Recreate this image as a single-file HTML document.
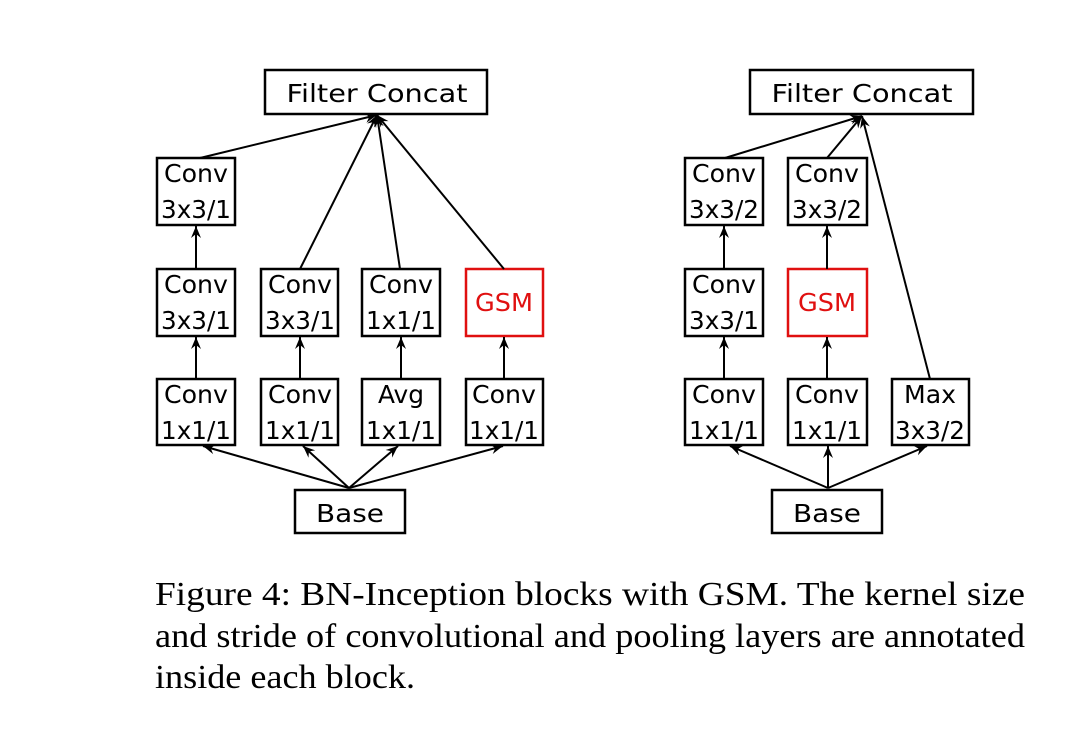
<!DOCTYPE html>
<html><head><meta charset="utf-8"><style>
html,body{margin:0;padding:0;background:#fff;}
svg{display:block;}
.b{fill:#fff;stroke:#000;stroke-width:2.5;}
.r{fill:#fff;stroke:#e01010;stroke-width:2.5;}
.t{font-family:"DejaVu Sans","Liberation Sans",sans-serif;font-size:25px;fill:#000;text-anchor:middle;}
.g{fill:#e01010;}
.l{stroke:#000;stroke-width:2;fill:none;marker-end:url(#a);}
.c{font-family:"Liberation Serif",serif;font-size:34px;fill:#000;}
</style></head><body>
<svg width="1072" height="730" viewBox="0 0 1072 730" xmlns="http://www.w3.org/2000/svg">
<defs><marker id="a" viewBox="-14 -6 16 12" refX="0" refY="0" markerWidth="16" markerHeight="12" orient="auto" markerUnits="userSpaceOnUse"><path d="M0,0 L-12,-5 L-8,0 L-12,5 Z" fill="#000"/></marker></defs>

<!-- LEFT -->
<rect class="b" x="265" y="70" width="222" height="44" stroke-width="3"/>
<text class="t" x="377" y="102" font-size="28" textLength="181" lengthAdjust="spacingAndGlyphs">Filter Concat</text>

<rect class="b" x="157" y="158" width="78" height="67"/>
<text class="t" x="196" y="182" textLength="64" lengthAdjust="spacingAndGlyphs">Conv</text><text class="t" x="196" y="218" textLength="70" lengthAdjust="spacingAndGlyphs">3x3/1</text>

<rect class="b" x="157" y="269" width="78" height="67"/>
<text class="t" x="196" y="293" textLength="64" lengthAdjust="spacingAndGlyphs">Conv</text><text class="t" x="196" y="329" textLength="70" lengthAdjust="spacingAndGlyphs">3x3/1</text>
<rect class="b" x="261" y="269" width="77" height="67"/>
<text class="t" x="300" y="293" textLength="64" lengthAdjust="spacingAndGlyphs">Conv</text><text class="t" x="300" y="329" textLength="70" lengthAdjust="spacingAndGlyphs">3x3/1</text>
<rect class="b" x="362" y="269" width="78" height="67"/>
<text class="t" x="401" y="293" textLength="64" lengthAdjust="spacingAndGlyphs">Conv</text><text class="t" x="401" y="329" textLength="70" lengthAdjust="spacingAndGlyphs">1x1/1</text>
<rect class="r" x="466" y="269" width="77" height="67"/>
<text class="t g" x="504" y="311" textLength="58" lengthAdjust="spacingAndGlyphs">GSM</text>

<rect class="b" x="157" y="379" width="78" height="66"/>
<text class="t" x="196" y="403" textLength="64" lengthAdjust="spacingAndGlyphs">Conv</text><text class="t" x="196" y="439" textLength="70" lengthAdjust="spacingAndGlyphs">1x1/1</text>
<rect class="b" x="261" y="379" width="77" height="66"/>
<text class="t" x="300" y="403" textLength="64" lengthAdjust="spacingAndGlyphs">Conv</text><text class="t" x="300" y="439" textLength="70" lengthAdjust="spacingAndGlyphs">1x1/1</text>
<rect class="b" x="362" y="379" width="78" height="66"/>
<text class="t" x="401" y="403" textLength="46" lengthAdjust="spacingAndGlyphs">Avg</text><text class="t" x="401" y="439" textLength="70" lengthAdjust="spacingAndGlyphs">1x1/1</text>
<rect class="b" x="466" y="379" width="77" height="66"/>
<text class="t" x="504" y="403" textLength="64" lengthAdjust="spacingAndGlyphs">Conv</text><text class="t" x="504" y="439" textLength="70" lengthAdjust="spacingAndGlyphs">1x1/1</text>

<rect class="b" x="295" y="490" width="110" height="43"/>
<text class="t" x="350" y="522" font-size="27" textLength="68" lengthAdjust="spacingAndGlyphs">Base</text>

<line class="l" x1="200" y1="158" x2="377" y2="115"/>
<line class="l" x1="300" y1="269" x2="377" y2="115"/>
<line class="l" x1="400" y1="269" x2="377" y2="115"/>
<line class="l" x1="504" y1="269" x2="377" y2="115"/>
<line class="l" x1="196" y1="269" x2="196" y2="226"/>
<line class="l" x1="196" y1="379" x2="196" y2="337"/>
<line class="l" x1="300" y1="379" x2="300" y2="337"/>
<line class="l" x1="401" y1="379" x2="401" y2="337"/>
<line class="l" x1="504" y1="379" x2="504" y2="337"/>
<line class="l" x1="349" y1="488" x2="203" y2="446"/>
<line class="l" x1="349" y1="488" x2="303" y2="446"/>
<line class="l" x1="349" y1="488" x2="398" y2="446"/>
<line class="l" x1="349" y1="488" x2="503" y2="446"/>

<!-- RIGHT -->
<rect class="b" x="750" y="70" width="223" height="44" stroke-width="3"/>
<text class="t" x="862" y="102" font-size="28" textLength="181" lengthAdjust="spacingAndGlyphs">Filter Concat</text>

<rect class="b" x="685" y="158" width="78" height="67"/>
<text class="t" x="724" y="182" textLength="64" lengthAdjust="spacingAndGlyphs">Conv</text><text class="t" x="724" y="218" textLength="70" lengthAdjust="spacingAndGlyphs">3x3/2</text>
<rect class="b" x="788" y="158" width="79" height="67"/>
<text class="t" x="827" y="182" textLength="64" lengthAdjust="spacingAndGlyphs">Conv</text><text class="t" x="827" y="218" textLength="70" lengthAdjust="spacingAndGlyphs">3x3/2</text>

<rect class="b" x="685" y="269" width="78" height="67"/>
<text class="t" x="724" y="293" textLength="64" lengthAdjust="spacingAndGlyphs">Conv</text><text class="t" x="724" y="329" textLength="70" lengthAdjust="spacingAndGlyphs">3x3/1</text>
<rect class="r" x="788" y="269" width="79" height="67"/>
<text class="t g" x="827" y="311" textLength="58" lengthAdjust="spacingAndGlyphs">GSM</text>

<rect class="b" x="685" y="379" width="78" height="66"/>
<text class="t" x="724" y="403" textLength="64" lengthAdjust="spacingAndGlyphs">Conv</text><text class="t" x="724" y="439" textLength="70" lengthAdjust="spacingAndGlyphs">1x1/1</text>
<rect class="b" x="788" y="379" width="79" height="66"/>
<text class="t" x="827" y="403" textLength="64" lengthAdjust="spacingAndGlyphs">Conv</text><text class="t" x="827" y="439" textLength="70" lengthAdjust="spacingAndGlyphs">1x1/1</text>
<rect class="b" x="892" y="379" width="77" height="66"/>
<text class="t" x="930" y="403" textLength="52" lengthAdjust="spacingAndGlyphs">Max</text><text class="t" x="930" y="439" textLength="70" lengthAdjust="spacingAndGlyphs">3x3/2</text>

<rect class="b" x="772" y="490" width="110" height="43"/>
<text class="t" x="827" y="522" font-size="27" textLength="68" lengthAdjust="spacingAndGlyphs">Base</text>

<line class="l" x1="725" y1="158" x2="862" y2="116"/>
<line class="l" x1="827" y1="158" x2="862" y2="116"/>
<line class="l" x1="930" y1="379" x2="862" y2="116"/>
<line class="l" x1="724" y1="269" x2="724" y2="226"/>
<line class="l" x1="827" y1="269" x2="827" y2="226"/>
<line class="l" x1="724" y1="379" x2="724" y2="337"/>
<line class="l" x1="827" y1="379" x2="827" y2="337"/>
<line class="l" x1="828" y1="488" x2="730" y2="446"/>
<line class="l" x1="828" y1="488" x2="828" y2="446"/>
<line class="l" x1="828" y1="488" x2="927" y2="446"/>

<!-- caption -->
<text class="c" x="155" y="605" textLength="870" lengthAdjust="spacingAndGlyphs">Figure 4: BN-Inception blocks with GSM. The kernel size</text>
<text class="c" x="155" y="647" textLength="870" lengthAdjust="spacingAndGlyphs">and stride of convolutional and pooling layers are annotated</text>
<text class="c" x="155" y="688" textLength="260" lengthAdjust="spacingAndGlyphs">inside each block.</text>
</svg>
</body></html>
